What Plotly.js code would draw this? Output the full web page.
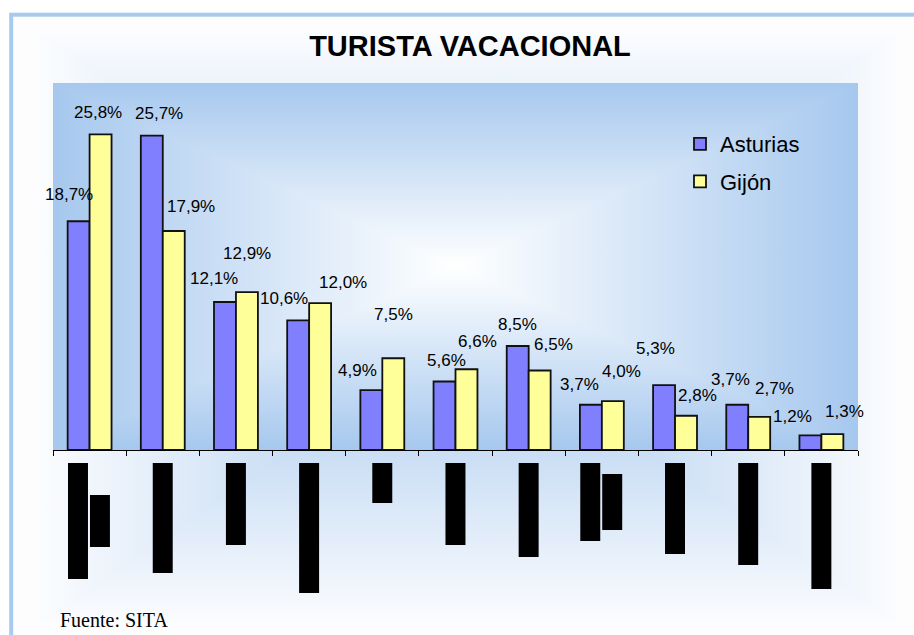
<!DOCTYPE html>
<html>
<head>
<meta charset="utf-8">
<script src="https://cdn.plot.ly/plotly-3.0.1.min.js"></script>
<style>
html,body{margin:0;padding:0;background:#fff;overflow:hidden;}
#chart{width:914px;height:635px;}
</style>
</head>
<body>
<div id="chart"></div>
<script>
// ---------------- data ----------------
const categories = ["Categoría 1","Categoría 2","Categoría 3","Categoría 4","Categoría 5","Categoría 6",
                    "Categoría 7","Categoría 8","Categoría 9","Categoría 10","Categoría 11"];
const seriesNames = ["Asturias", "Gijón"];
const asturias = [18.7, 25.7, 12.1, 10.6, 4.9, 5.6, 8.5, 3.7, 5.3, 3.7, 1.2];
const gijon    = [25.8, 17.9, 12.9, 12.0, 7.5, 6.6, 6.5, 4.0, 2.8, 2.7, 1.3];
// lengths of the (illegible, blacked-out) vertical category labels below the axis
const labelLine1 = [116, 110, 82, 130, 40, 82, 94, 78, 91, 102, 126];
const labelLine2 = [52, null, null, null, null, null, null, 56, null, null, null];
const titleText = "TURISTA VACACIONAL";
const sourceText = "Fuente: SITA";

// ---------------- style ----------------
const astDx = [-10, 7, -11, -14, -14, 2, 0, -11, -9, -7, -18];
const astDy = [27, 22, 23, 22, 20, 21, 22, 20, 37, 25, 19];
const gijDx = [-3, 17, 0, 23, 0, 11, 14, 9, 11, 15, 12];
const gijDy = [22, 25, 39, 21, 44, 28, 26, 30, 20, 28, 23];

const W = 914, H = 635;
const M = {l: 53, r: 56, t: 83, b: 35};
const PW = W - M.l - M.r, PH = H - M.t - M.b;
const axisPx = 450, blockTopPx = 463;
const mainDomain = [(H - M.b - axisPx) / PH, 1];
const blockRange = (H - M.b) - blockTopPx;
const blockDomain = [0, blockRange / PH];

const fmt = v => v.toFixed(1).replace('.', ',') + '%';
const FONT = "Liberation Sans, Arial, sans-serif";

// background gradients (rectangular "from center")
function rectGrad(id, x0, y0, x1, y1, cIn, cOut) {
  const cx = (x0 + x1) / 2, cy = (y0 + y1) / 2;
  const tris = [
    {pts: [[x0,y0],[x1,y0],[cx,cy]], to: [cx, y0]},
    {pts: [[x0,y1],[x1,y1],[cx,cy]], to: [cx, y1]},
    {pts: [[x0,y0],[x0,y1],[cx,cy]], to: [x0, cy]},
    {pts: [[x1,y0],[x1,y1],[cx,cy]], to: [x1, cy]}
  ];
  let defs = '', body = '';
  tris.forEach((t, k) => {
    const gid = id + k;
    defs += `<linearGradient id="${gid}" gradientUnits="userSpaceOnUse" x1="${cx}" y1="${cy}" x2="${t.to[0]}" y2="${t.to[1]}">` +
            `<stop offset="0" stop-color="${cIn}"/><stop offset="1" stop-color="${cOut}"/></linearGradient>`;
    body += `<polygon shape-rendering="crispEdges" points="${t.pts.map(p => p.join(',')).join(' ')}" fill="url(#${gid})"/>`;
  });
  return {defs, body};
}
const gChart = rectGrad('gc', 40, 33, 897, 623, '#a6c8ee', '#fbfcfe');
const gPlot = rectGrad('gp', M.l, M.t, W - M.r, axisPx, '#ffffff', '#a6c8ee');
const svg = `<svg xmlns="http://www.w3.org/2000/svg" width="${W}" height="${H}" viewBox="0 0 ${W} ${H}">` +
  `<defs>${gChart.defs}${gPlot.defs}</defs>` +
  `<rect x="0" y="0" width="${W}" height="${H}" fill="#ffffff"/>` +
  `<rect x="11.2" y="14.7" width="1000" height="1000" fill="#fdfdfe" stroke="#a8caef" stroke-width="4"/>` +
  gChart.body + gPlot.body + `</svg>`;
const bgSource = 'data:image/svg+xml;charset=utf-8,' + encodeURIComponent(svg);

// ---------------- traces ----------------
const barLine = {color: '#111111', width: 1.8};
const traces = [
  {type: 'bar', name: seriesNames[0], x: categories, y: asturias, legendgroup: 'a',
   marker: {color: '#8080ff', line: barLine}, hoverinfo: 'x+y+name'},
  {type: 'bar', name: seriesNames[1], x: categories, y: gijon, legendgroup: 'g',
   marker: {color: '#ffff99', line: barLine}, hoverinfo: 'x+y+name'},
  {type: 'bar', name: 'etiqueta (línea 1)', x: categories, y: labelLine1, yaxis: 'y2',
   base: labelLine1.map(() => 0),
   offset: labelLine2.map(v => v == null ? -0.137 : -0.295), width: 0.273,
   marker: {color: '#000000', line: {width: 0}}, showlegend: false, hoverinfo: 'skip'},
  {type: 'bar', name: 'etiqueta (línea 2)', x: categories,
   y: labelLine2, yaxis: 'y2',
   base: labelLine2.map((v, i) => v == null ? 0 : (labelLine1[i] - v) / 2),
   offset: 0.005, width: 0.273,
   marker: {color: '#000000', line: {width: 0}}, showlegend: false, hoverinfo: 'skip'}
];

// ---------------- annotations ----------------
const annotations = [];
asturias.forEach((v, i) => annotations.push({
  x: i - 0.15, y: v, xref: 'x', yref: 'y', text: fmt(v), showarrow: false,
  xanchor: 'center', yanchor: 'middle', xshift: astDx[i], yshift: astDy[i],
  font: {family: FONT, size: 17, color: '#000'}
}));
gijon.forEach((v, i) => annotations.push({
  x: i + 0.15, y: v, xref: 'x', yref: 'y', text: fmt(v), showarrow: false,
  xanchor: 'center', yanchor: 'middle', xshift: gijDx[i], yshift: gijDy[i],
  font: {family: FONT, size: 17, color: '#000'}
}));
annotations.push({
  x: (58 - M.l) / PW, y: (H - M.b - 620) / PH, xref: 'paper', yref: 'paper',
  text: sourceText, showarrow: false, xanchor: 'left', yanchor: 'middle',
  font: {family: 'Liberation Serif, Times New Roman, serif', size: 20, color: '#000'}
});

const layout = {
  width: W, height: H,
  margin: {l: M.l, r: M.r, t: M.t, b: M.b, pad: 0},
  paper_bgcolor: '#ffffff',
  plot_bgcolor: 'rgba(0,0,0,0)',
  barmode: 'group', bargap: 0.4, bargroupgap: 0,
  title: {text: titleText, x: 470 / W, xref: 'container', xanchor: 'center',
          y: 1 - 46 / H, yref: 'container', yanchor: 'middle',
          font: {family: FONT, size: 29, weight: 'bold', color: '#000'}},
  xaxis: {type: 'category', anchor: 'y', range: [-0.5, categories.length - 0.5], autorange: false,
          showline: true, linecolor: '#000', linewidth: 1,
          ticks: 'outside', tickson: 'boundaries', ticklen: 5, tickcolor: '#000', tickwidth: 1,
          showticklabels: false, showgrid: false, zeroline: false, fixedrange: true},
  yaxis: {domain: mainDomain, range: [0, 30], autorange: false, visible: false,
          showgrid: false, zeroline: false, fixedrange: true},
  yaxis2: {domain: blockDomain, range: [blockRange, 0], autorange: false, anchor: 'x', visible: false,
           showgrid: false, zeroline: false, fixedrange: true},
  legend: {x: (680 - M.l) / PW, xanchor: 'left', y: (H - M.b - 123) / PH, yanchor: 'top',
           bgcolor: 'rgba(0,0,0,0)', borderwidth: 0, traceorder: 'grouped', tracegroupgap: 6,
           font: {family: FONT, size: 22, color: '#000'}},
  annotations: annotations,
  images: [{source: bgSource, xref: 'paper', yref: 'paper', x: -M.l / PW, y: 1 + M.t / PH,
            sizex: W / PW, sizey: H / PH, xanchor: 'left', yanchor: 'top',
            sizing: 'stretch', layer: 'below'}],
  showlegend: true
};

Plotly.newPlot('chart', traces, layout, {displayModeBar: false, responsive: false});
</script>
</body>
</html>
